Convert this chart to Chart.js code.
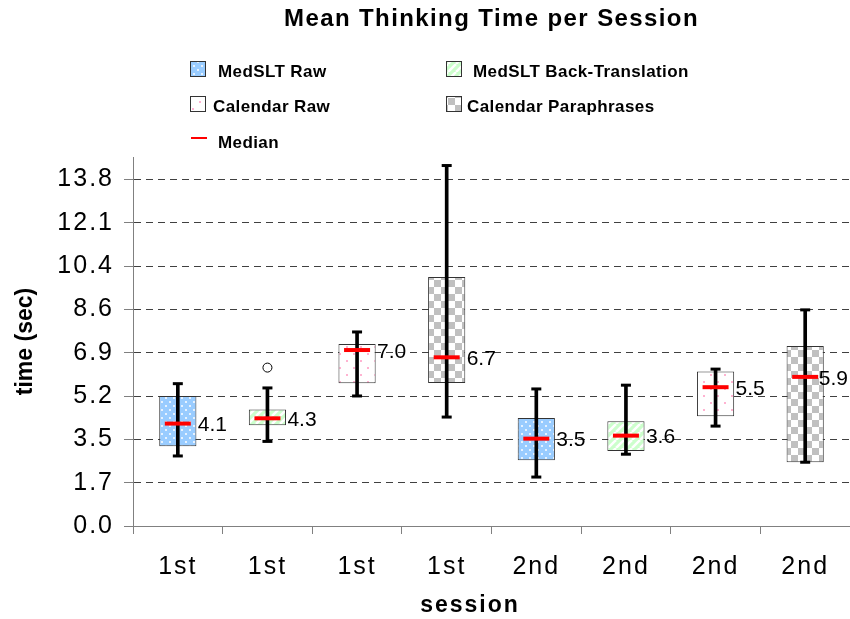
<!DOCTYPE html>
<html><head><meta charset="utf-8">
<script src="https://cdn.jsdelivr.net/npm/chart.js@4/dist/chart.umd.min.js"></script>
<style>html,body{margin:0;padding:0;background:#fff;overflow:hidden}#wrap{width:850px;height:619px;position:relative}</style>
</head><body><div id="wrap"><canvas id="c" width="850" height="619"></canvas></div>
<script>
// ---- data ----
const categories = ['1st','1st','1st','1st','2nd','2nd','2nd','2nd'];
const groups = ['MedSLT Raw','MedSLT Back-Translation','Calendar Raw','Calendar Paraphrases','MedSLT Raw','MedSLT Back-Translation','Calendar Raw','Calendar Paraphrases'];
const whiskerLow  = [2.79, 3.37, 5.18, 4.34, 1.95, 2.86, 3.98, 2.54];
const q1          = [3.18, 4.01, 5.69, 5.70, 2.62, 2.99, 4.37, 2.54];
const median      = [4.08, 4.29, 7.01, 6.72, 3.48, 3.60, 5.53, 5.94];
const q3          = [5.18, 4.64, 7.25, 9.92, 4.30, 4.17, 6.15, 7.17];
const whiskerHigh = [5.67, 5.50, 7.73, 14.36, 5.46, 5.61, 6.25, 8.61];
const outliers    = [null, 6.31, null, null, null, null, null, null];
const yTickValues = [0, 1.725, 3.45, 5.175, 6.9, 8.625, 10.35, 12.075, 13.8];
const yTickLabels = ['0.0','1.7','3.5','5.2','6.9','8.6','10.4','12.1','13.8'];
const yMax = 14.7;
const legendLabels = ['MedSLT Raw','MedSLT Back-Translation','Calendar Raw','Calendar Paraphrases','Median'];
const chartTitle = 'Mean Thinking Time per Session';
const xTitle = 'session';
const yTitle = 'time (sec)';

const FONT = '"Liberation Sans", Arial, Helvetica, sans-serif';
const canvas = document.getElementById('c');
const mctx = canvas.getContext('2d');

function makePattern(kind){
  const t = document.createElement('canvas');
  const g = t.getContext('2d');
  if (kind === 'MedSLT Raw') {
    t.width = 8; t.height = 8;
    g.fillStyle = '#99CCFF'; g.fillRect(0,0,8,8);
    g.fillStyle = '#E6F2FF'; g.fillRect(1,1,2,2); g.fillRect(5,5,2,2);
  } else if (kind === 'MedSLT Back-Translation') {
    t.width = 8; t.height = 8;
    g.fillStyle = '#CCFFCC'; g.fillRect(0,0,8,8);
    g.strokeStyle = '#FFFFFF'; g.lineWidth = 2.5;
    for (let o = -8; o <= 8; o += 8) { g.beginPath(); g.moveTo(o, 8); g.lineTo(o + 8, 0); g.stroke(); }
  } else if (kind === 'Calendar Raw') {
    t.width = 14; t.height = 14;
    g.fillStyle = '#FFFFFF'; g.fillRect(0,0,14,14);
    g.fillStyle = '#FFB3D1'; g.fillRect(3,3,2,2); g.fillRect(10,10,2,2);
  } else {
    t.width = 14; t.height = 14;
    g.fillStyle = '#FFFFFF'; g.fillRect(0,0,14,14);
    g.fillStyle = '#C0C0C0'; g.fillRect(0,0,7,7); g.fillRect(7,7,7,7);
  }
  return mctx.createPattern(t, 'repeat');
}
const patternFor = {};
['MedSLT Raw','MedSLT Back-Translation','Calendar Raw','Calendar Paraphrases'].forEach(k => patternFor[k] = makePattern(k));

function txt(ctx, s, x, y, font, o) {
  o = o || {};
  ctx.save();
  ctx.font = font; ctx.fillStyle = o.color || '#000';
  ctx.textAlign = o.align || 'left'; ctx.textBaseline = o.baseline || 'alphabetic';
  if ('letterSpacing' in ctx) ctx.letterSpacing = (o.spacing || 0) + 'px';
  ctx.translate(x, y); if (o.rotate) ctx.rotate(o.rotate);
  ctx.fillText(s, 0, 0);
  ctx.restore();
}

const decor = {
  id: 'decor',
  beforeDraw(chart) { if ('letterSpacing' in chart.ctx) chart.ctx.letterSpacing = '2px'; },
  beforeDatasetsDraw(chart) { if ('letterSpacing' in chart.ctx) chart.ctx.letterSpacing = '0px'; },
  afterDatasetsDraw(chart) {
    const ctx = chart.ctx, xs = chart.scales.x, ys = chart.scales.y;
    ctx.save();
    ctx.font = '21px ' + FONT;
    median.forEach((m, i) => {
      const s = m.toFixed(1);
      const w = ctx.measureText(s).width;
      let x = xs.getPixelForValue(i) + 20;
      if (x + w > chart.width - 2) x = chart.width - 2 - w;
      txt(ctx, s, x, ys.getPixelForValue(m) + 2, '21px ' + FONT, {baseline: 'middle'});
    });
    ctx.restore();
  },
  afterDraw(chart) {
    const ctx = chart.ctx, ca = chart.chartArea;
    // title
    txt(ctx, chartTitle, (ca.left + ca.right) / 2, 26, 'bold 24px ' + FONT, {align: 'center', spacing: 1.4});
    // legend
    const items = [
      {x: 190, y: 61, tx: 218, ty: 77},
      {x: 446, y: 61, tx: 473, ty: 77},
      {x: 190, y: 96, tx: 213, ty: 112},
      {x: 446, y: 96, tx: 467, ty: 112},
      {x: 190, y: 131, tx: 218, ty: 148}
    ];
    legendLabels.forEach((lab, i) => {
      const it = items[i];
      if (i < 4) {
        ctx.save();
        ctx.fillStyle = patternFor[lab];
        ctx.fillRect(it.x, it.y, 15, 15);
        ctx.strokeStyle = '#333'; ctx.lineWidth = 1;
        ctx.strokeRect(it.x + 0.5, it.y + 0.5, 15, 15);
        ctx.restore();
      } else {
        ctx.save();
        ctx.strokeStyle = '#FF0000'; ctx.lineWidth = 2;
        ctx.beginPath(); ctx.moveTo(it.x + 1, it.y + 7); ctx.lineTo(it.x + 17, it.y + 7); ctx.stroke();
        ctx.restore();
      }
      txt(ctx, lab, it.tx, it.ty, 'bold 17px ' + FONT, {spacing: 0.4});
    });
    // axis titles
    txt(ctx, xTitle, 470, 612, 'bold 23px ' + FONT, {align: 'center', spacing: 2});
    txt(ctx, yTitle, 26, (ca.top + ca.bottom) / 2, 'bold 23px ' + FONT, {align: 'center', baseline: 'middle', rotate: -Math.PI / 2});
  }
};

new Chart(canvas, {
  data: {
    labels: categories,
    datasets: [
      { type: 'bar', label: 'box', data: q1.map((v, i) => [v, q3[i]]),
        backgroundColor: groups.map(g => patternFor[g]), borderColor: '#333333', borderWidth: 1,
        borderSkipped: false, barPercentage: 0.415, categoryPercentage: 1, grouped: false, order: 5 },
      { type: 'bar', label: 'whisker', data: whiskerLow.map((v, i) => [v, whiskerHigh[i]]),
        backgroundColor: '#000000', borderWidth: 0, barThickness: 3, grouped: false, order: 4 },
      { type: 'line', label: 'capHigh', data: whiskerHigh, showLine: false, pointStyle: 'line',
        pointRadius: 5, pointBorderWidth: 3, pointBorderColor: '#000', order: 3 },
      { type: 'line', label: 'capLow', data: whiskerLow, showLine: false, pointStyle: 'line',
        pointRadius: 5, pointBorderWidth: 3, pointBorderColor: '#000', order: 3 },
      { type: 'line', label: 'Median', data: median, showLine: false, pointStyle: 'line',
        pointRadius: 13, pointBorderWidth: 4, pointBorderColor: '#FF0000', order: 2 },
      { type: 'line', label: 'outlier', data: outliers, showLine: false, pointStyle: 'circle',
        pointRadius: 4.5, pointBorderWidth: 1, pointBorderColor: '#000', pointBackgroundColor: '#fff', order: 1 }
    ]
  },
  options: {
    responsive: false, animation: false, events: [],
    layout: { autoPadding: false, padding: { top: 157, left: 0, right: 0, bottom: 0 } },
    plugins: { legend: { display: false }, title: { display: false }, tooltip: { enabled: false } },
    scales: {
      x: {
        type: 'category', offset: true,
        grid: { display: true, drawOnChartArea: false, drawTicks: true, tickLength: 8, offset: true, color: '#808080' },
        border: { display: true, color: '#808080', width: 1 },
        ticks: { font: { family: FONT, size: 25 }, color: '#000', padding: 18, maxRotation: 0, autoSkip: false },
        afterFit: s => { s.height = 93; s.paddingLeft = 0; s.paddingRight = 0; }
      },
      y: {
        type: 'linear', min: 0, max: yMax,
        afterBuildTicks: s => { s.ticks = yTickValues.map(v => ({ value: v })); },
        ticks: { callback: (v, i) => yTickLabels[i], font: { family: FONT, size: 25 }, color: '#000', padding: 10 },
        grid: { color: '#404040', lineWidth: 1, tickLength: 9, drawTicks: true, tickColor: '#808080' },
        border: { display: true, color: '#808080', width: 1, dash: [7, 5] },
        afterFit: s => { s.width = 133; s.paddingTop = 0; s.paddingBottom = 0; }
      }
    }
  },
  plugins: [decor]
});
</script></body></html>
